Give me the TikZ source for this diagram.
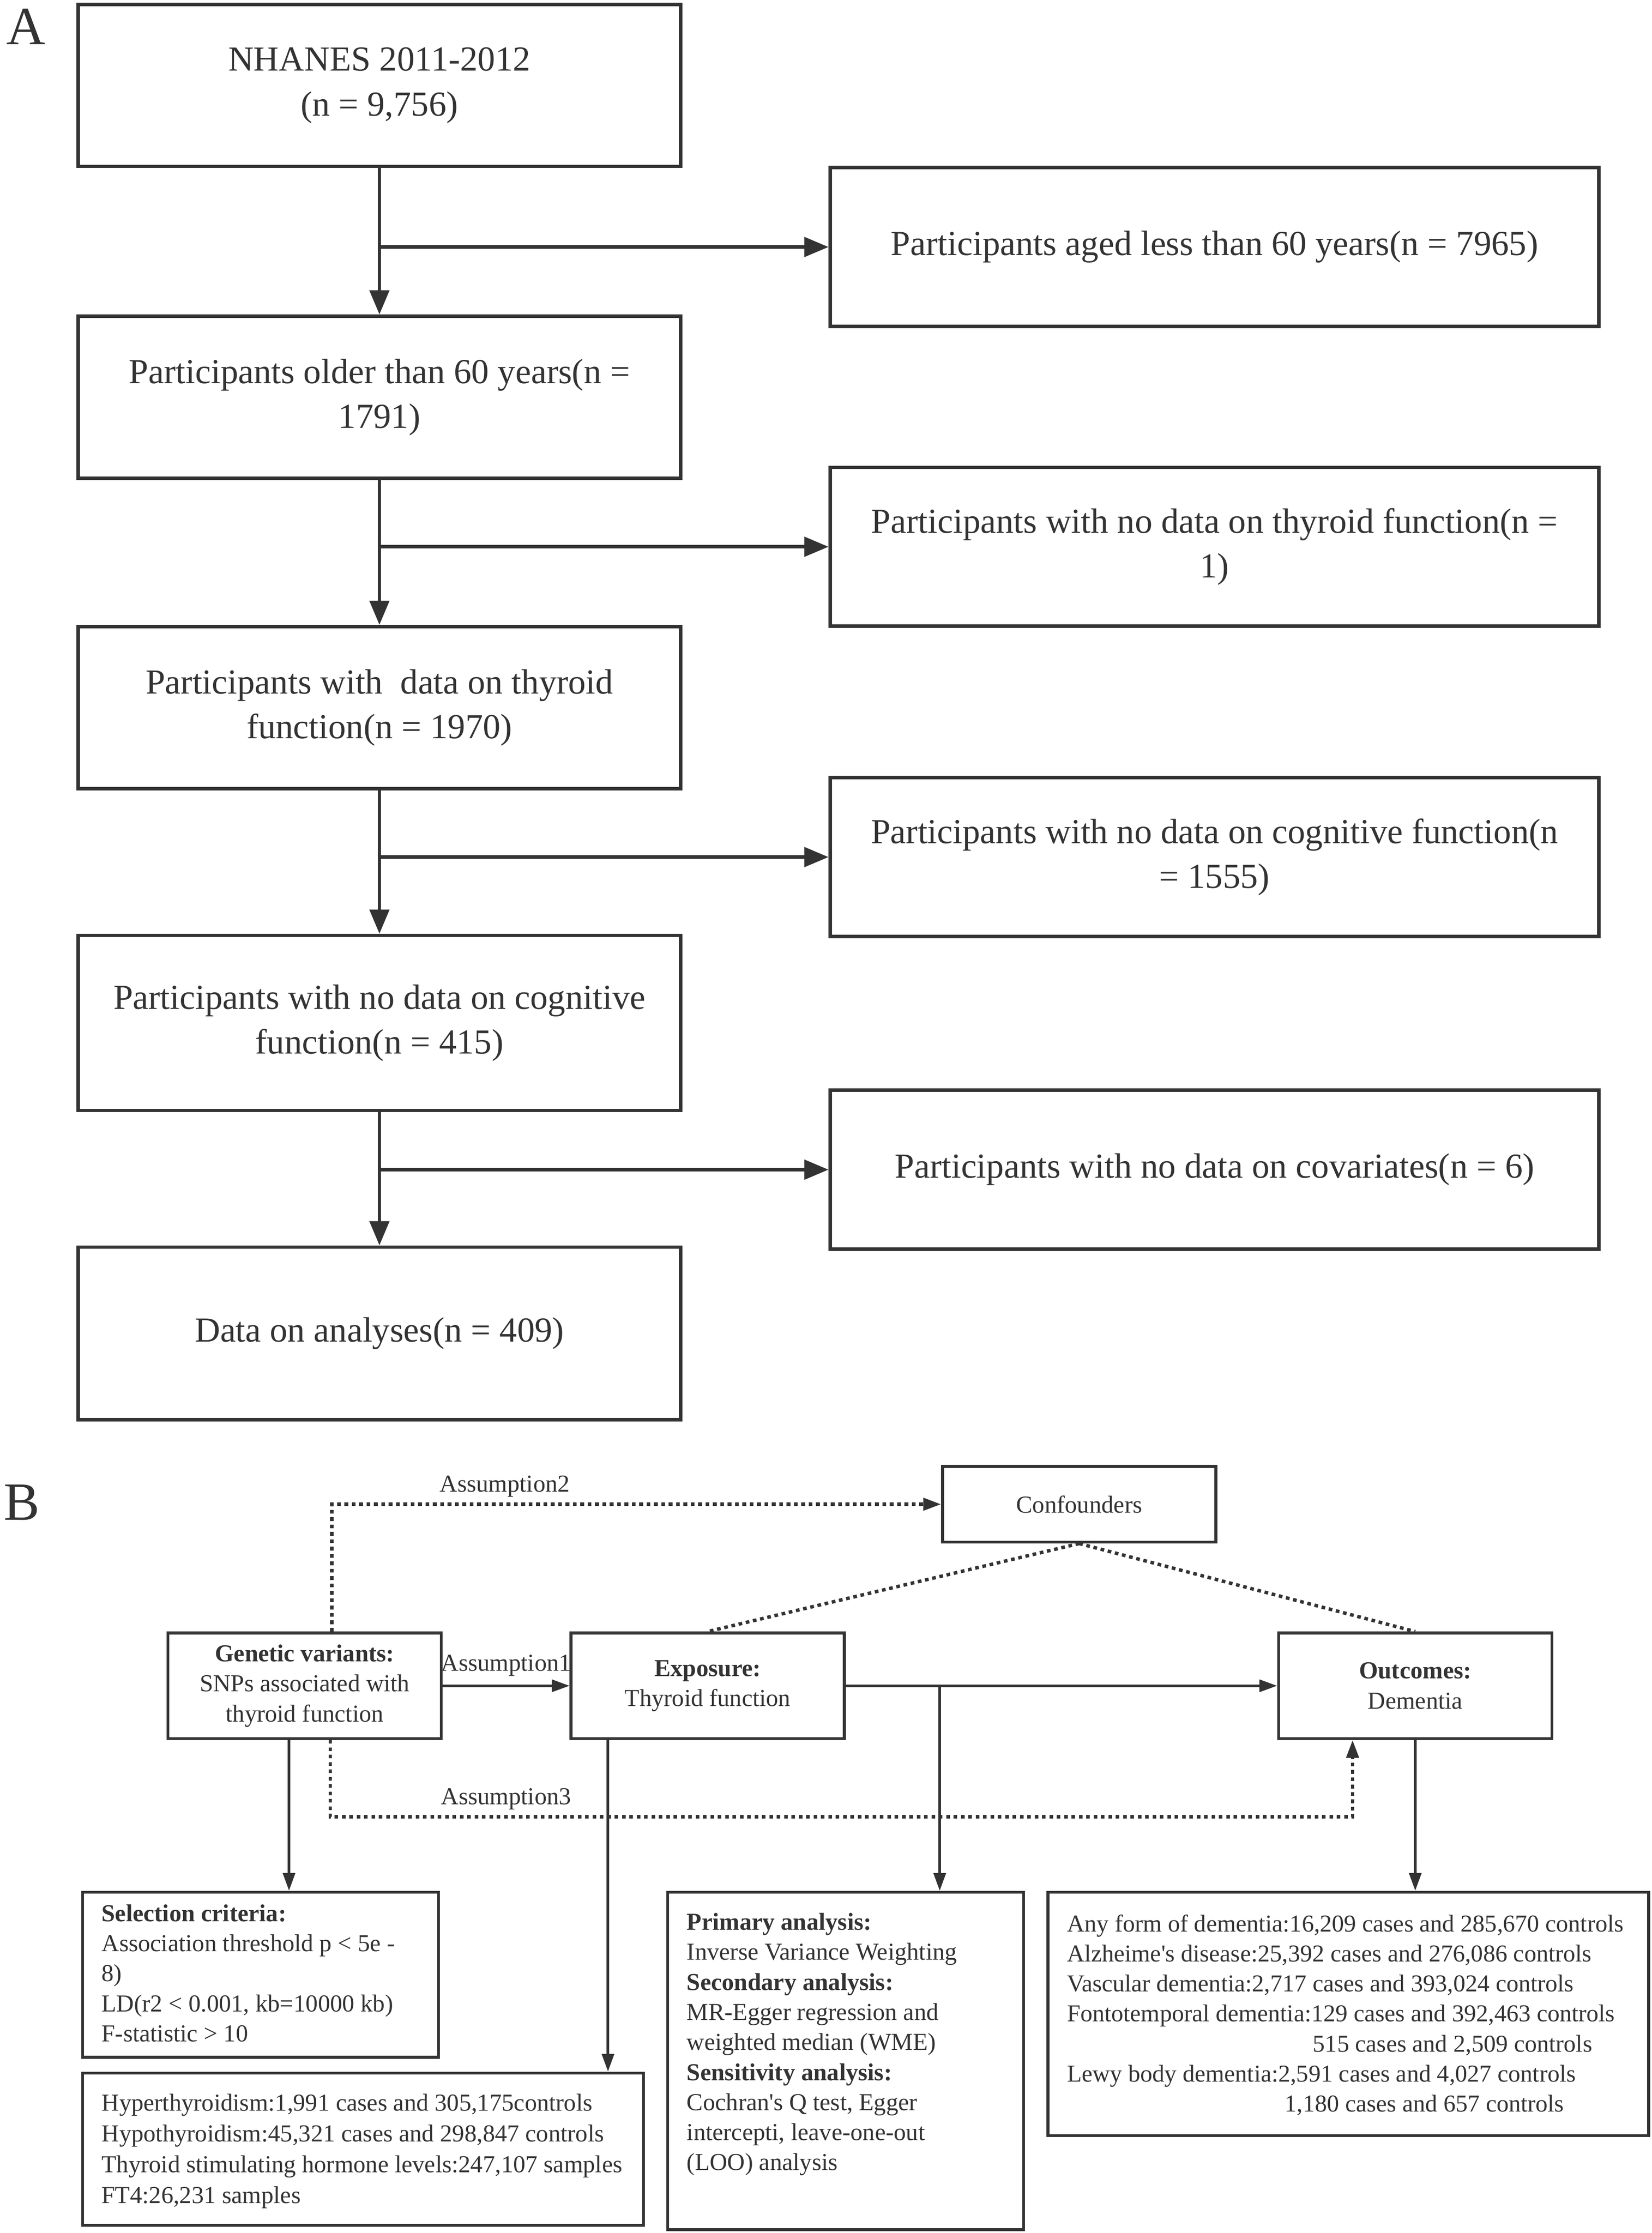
\documentclass[tikz,border=0pt]{standalone}
\usepackage{fontspec}
\setmainfont{Liberation Serif}
\usetikzlibrary{arrows.meta}
\definecolor{ink}{HTML}{333333}

\begin{document}
\begin{tikzpicture}[
    flowbox/.style={draw=ink, line width=1.2pt, text=ink, align=center, inner sep=0pt,
        font=\fontsize{12.4}{15.8}\selectfont, minimum width=7.47cm, minimum height=2.01cm},
    exclbox/.style={flowbox, minimum width=9.53cm, minimum height=1.97cm},
    flowarr/.style={draw=ink, line width=1.2pt, -{Triangle[length=0.3cm, width=0.24cm]}},
    mrbox/.style={draw=ink, line width=1pt, text=ink, align=center, inner sep=0pt,
        font=\fontsize{8.6}{10.6}\selectfont, minimum width=3.39cm, minimum height=1.31cm},
    infobox/.style={draw=ink, line width=1pt, inner sep=0pt},
    infotxt/.style={text=ink, align=left, inner sep=0pt, anchor=north west,
        font=\fontsize{8.6}{10.6}\selectfont},
    lbl/.style={text=ink, inner sep=2pt, font=\fontsize{8.6}{10.6}\selectfont},
    mrarr/.style={draw=ink, line width=0.9pt, -{Triangle[length=0.22cm, width=0.15cm]}},
    assum/.style={draw=ink, line width=1.2pt, dash pattern=on 1.3pt off 1.3pt},
    panel/.style={text=ink, inner sep=0pt, font=\fontsize{19}{22}\selectfont}
]
    \useasboundingbox (0,0) rectangle (20.48,-27.69);

    % panel A
    \node[panel] (pa) at (0.32,-0.33) {A};
    \node[flowbox] (n1) at (4.705,-1.059) {NHANES 2011-2012\\(n = 9,756)};
    \node[flowbox] (n2) at (4.705,-4.926) {Participants older than 60 years(n =\\1791)};
    \node[flowbox] (n3) at (4.705,-8.775) {Participants with\ \ data on thyroid\\function(n = 1970)};
    \node[flowbox, minimum height=2.17cm] (n4) at (4.705,-12.685) {Participants with no data on cognitive\\function(n = 415)};
    \node[flowbox, minimum height=2.14cm] (n5) at (4.705,-16.534) {Data on analyses(n = 409)};

    \node[exclbox] (x1) at (15.06,-3.063) {Participants aged less than 60 years(n = 7965)};
    \node[exclbox] (x2) at (15.06,-6.780) {Participants with no data on thyroid function(n =\\1)};
    \node[exclbox] (x3) at (15.06,-10.628) {Participants with no data on cognitive function(n\\= 1555)};
    \node[exclbox] (x4) at (15.06,-14.504) {Participants with no data on covariates(n = 6)};

    \foreach \a/\b in {n1/n2,n2/n3,n3/n4,n4/n5}
    \draw[flowarr] (\a) -- (\b);
    \foreach \a/\r in {n1/x1,n2/x2,n3/x3,n4/x4}
    \draw[flowarr] (\a.south |- \r.west) -- (\r.west);

    % panel B
    \node[panel] (pb) at (0.27,-18.63) {B};
    \node[mrbox, minimum height=0.94cm] (conf) at (13.382,-18.653) {Confounders};
    \node[mrbox] (gen) at (3.778,-20.904) {\textbf{Genetic variants:}\\SNPs associated with\\thyroid function};
    \node[mrbox] (exp) at (8.775,-20.904) {\textbf{Exposure:}\\Thyroid function};
    \node[mrbox] (out) at (17.549,-20.904) {\textbf{Outcomes:}\\Dementia};

    \node[infobox, minimum width=4.414cm, minimum height=2.048cm] (sel) at (3.231,-24.487) {};
    \node[infobox, minimum width=6.956cm, minimum height=1.889cm] (hyp) at (4.502,-26.650) {};
    \node[infobox, minimum width=4.414cm, minimum height=4.184cm] (pri) at (10.487,-25.556) {};
    \node[infobox, minimum width=7.450cm, minimum height=3.019cm] (dem) at (16.719,-24.973) {};

    \node[infotxt] (seltxt) at ([xshift=0.247cm, yshift=-0.164cm]sel.north west)
        {\textbf{Selection criteria:}\\Association threshold p < 5e -\\8)\\LD(r2 < 0.001, kb=10000 kb)\\F-statistic > 10};
    \node[infotxt, font=\fontsize{8.6}{10.9}\selectfont] (hyptxt) at ([xshift=0.247cm, yshift=-0.27cm]hyp.north west)
        {Hyperthyroidism:1,991 cases and 305,175controls\\Hypothyroidism:45,321 cases and 298,847 controls\\Thyroid stimulating hormone levels:247,107 samples\\FT4:26,231 samples};
    \node[infotxt] (pritxt) at ([xshift=0.247cm, yshift=-0.27cm]pri.north west)
        {\textbf{Primary analysis:}\\Inverse Variance Weighting\\\textbf{Secondary analysis:}\\MR-Egger regression and\\weighted median (WME)\\\textbf{Sensitivity analysis:}\\Cochran\textquotesingle s Q test, Egger\\intercepti, leave-one-out\\(LOO) analysis};
    \node[infotxt, font=\fontsize{8.55}{10.6}\selectfont] (demtxt) at ([xshift=0.247cm, yshift=-0.288cm]dem.north west)
        {Any form of dementia:16,209 cases and 285,670 controls\\Alzheime\textquotesingle s disease:25,392 cases and 276,086 controls\\Vascular dementia:2,717 cases and 393,024 controls\\Fontotemporal dementia:129 cases and 392,463 controls\\\hspace*{3.05cm}515 cases and 2,509 controls\\Lewy body dementia:2,591 cases and 4,027 controls\\\hspace*{2.70cm}1,180 cases and 657 controls};

    \draw[mrarr] (gen) -- node[above, lbl, inner sep=3pt] {Assumption1} (exp);
    \draw[mrarr] (exp) -- (out);
    \coordinate (br) at ([xshift=1.165cm]exp.east);
    \draw[mrarr] (br) -- (br |- pri.north);
    \draw[mrarr] ([xshift=-0.194cm]gen.south) -- ([xshift=-0.194cm]gen.south |- sel.north);
    \draw[mrarr] ([xshift=-1.236cm]exp.south) -- ([xshift=-1.236cm]exp.south |- hyp.north);
    \draw[mrarr] (out.south) -- (out.south |- dem.north);

    \draw[assum, -{Triangle[length=0.22cm, width=0.15cm]}] ([xshift=0.336cm]gen.north) |- node[pos=0.642, above, lbl] {Assumption2} (conf.west);
    \draw[assum] (conf.south) -- (exp.north);
    \draw[assum] (conf.south) -- (out.north);
    \draw[assum, -{Triangle[length=0.22cm, width=0.15cm]}] ([xshift=0.318cm]gen.south) -- ++(0,-0.953) -| node[pos=0.086, above, lbl] {Assumption3} ([xshift=-0.777cm]out.south);
\end{tikzpicture}
\end{document}
